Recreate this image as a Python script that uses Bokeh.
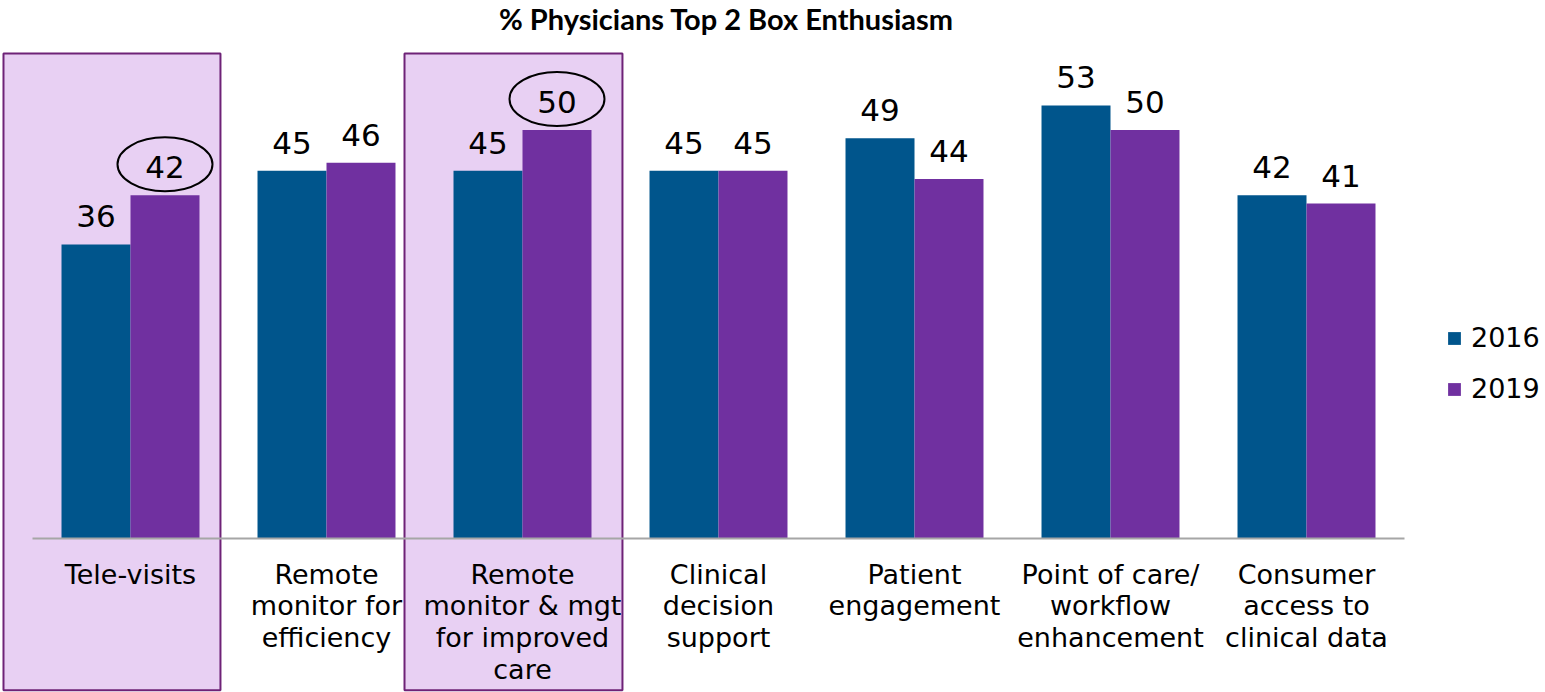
from bokeh.plotting import figure
from bokeh.models import Range1d, Legend, LegendItem, ColumnDataSource
from bokeh.core.properties import value
from bokeh.embed import file_html
from bokeh.resources import INLINE

# ---------------- data ----------------
title_text = "% Physicians Top 2 Box Enthusiasm"
categories = [
    "Tele-visits",
    "Remote\nmonitor for\nefficiency",
    "Remote\nmonitor & mgt\nfor improved\ncare",
    "Clinical\ndecision\nsupport",
    "Patient\nengagement",
    "Point of care/\nworkflow\nenhancement",
    "Consumer\naccess to\nclinical data",
]
series_names = ["2016", "2019"]
values_2016 = [36, 45, 45, 45, 49, 53, 42]
values_2019 = [42, 46, 50, 45, 44, 50, 41]
highlighted_categories = [0, 2]      # boxed categories
circled_2019 = [0, 2]                # 2019 labels with an ellipse

# ---------------- style / geometry ----------------
W, H = 1545, 692
CAT_PX = 196.0          # pixels per category
LEFT_PAD_PX = 32.0      # frame left to first category edge
PX_PER_UNIT = 8.17      # pixels per percentage point
ZERO_FROM_TOP = 538.0   # frame top to zero line, px
BAR_W = 0.352
BOX_PADS = [(0.648, 0.459), (0.602, 0.51)]   # left/right extent of each highlight box
C2016 = "#00558C"
C2019 = "#7030A0"
BOX_FILL = "#E8D0F3"
BOX_LINE = "#6E2277"
FONT = "DejaVu Sans"

x0 = -LEFT_PAD_PX / CAT_PX
x1 = x0 + W / CAT_PX
y1 = ZERO_FROM_TOP / PX_PER_UNIT
y0 = y1 - H / PX_PER_UNIT

p = figure(width=W, height=H, x_range=Range1d(x0, x1), y_range=Range1d(y0, y1),
           output_backend="svg", toolbar_location=None, min_border=0,
           x_axis_location=None, y_axis_location=None)
p.grid.visible = False
p.outline_line_color = None
p.background_fill_color = "white"
p.border_fill_color = "white"

centers = [i + 0.5 for i in range(len(categories))]

# highlight boxes
bx = [centers[i] for i in highlighted_categories]
p.quad(left=[c - pad[0] for c, pad in zip(bx, BOX_PADS)],
       right=[c + pad[1] for c, pad in zip(bx, BOX_PADS)],
       top=[(ZERO_FROM_TOP - 53) / PX_PER_UNIT] * len(bx),
       bottom=[y0 + 2.2 / PX_PER_UNIT] * len(bx),
       fill_color=BOX_FILL, line_color=BOX_LINE, line_width=2)

# bars
src = ColumnDataSource(dict(
    x16=[c - BAR_W / 2 for c in centers], x19=[c + BAR_W / 2 for c in centers],
    v16=values_2016, v19=values_2019,
    t16=[str(v) for v in values_2016], t19=[str(v) for v in values_2019],
))
r16 = p.vbar(x="x16", top="v16", bottom=0, width=BAR_W, source=src,
             fill_color=C2016, line_color=None)
r19 = p.vbar(x="x19", top="v19", bottom=0, width=BAR_W, source=src,
             fill_color=C2019, line_color=None)

# baseline
p.segment(x0=[0], y0=[0], x1=[len(categories)], y1=[0], line_color="#A6A6A6", line_width=2)

# value labels
for xs, vs, ts in (("x16", "v16", "t16"), ("x19", "v19", "t19")):
    p.text(x=xs, y=vs, text=ts, source=src, text_align="center",
           text_baseline="alphabetic", y_offset=-28, text_font=value(FONT),
           text_font_size="31px", text_color="black")

# ellipses around selected 2019 values
p.ellipse(x=[centers[i] + BAR_W / 2 for i in circled_2019],
          y=[values_2019[i] + 31 / PX_PER_UNIT for i in circled_2019],
          width=95, height=54, width_units="screen", height_units="screen",
          fill_color=None, line_color="black", line_width=2)

# category labels
p.text(x=centers, y=[-20 / PX_PER_UNIT] * len(categories), text=categories,
       text_align="center", text_baseline="top", text_font=value(FONT),
       text_font_size="27px", text_line_height=1.03, text_color="black")

# title
p.text(x=[(726 - LEFT_PAD_PX) / CAT_PX], y=[y1 - 0.5 / PX_PER_UNIT], text=[title_text],
       text_align="center", text_baseline="top", text_font=value("Lato"),
       text_font_style="bold", text_font_size="29px", text_color="black")

legend = Legend(items=[LegendItem(label=series_names[0], renderers=[r16]),
                       LegendItem(label=series_names[1], renderers=[r19])],
                location=(1446, 288), orientation="vertical",
                glyph_width=16, glyph_height=16, label_text_font=FONT,
                label_text_font_size="27px", label_text_color="black",
                spacing=20, padding=0, margin=0,
                label_standoff=9, border_line_color=None, background_fill_alpha=0)
p.add_layout(legend)

open("out.html", "w").write(file_html(p, INLINE))
